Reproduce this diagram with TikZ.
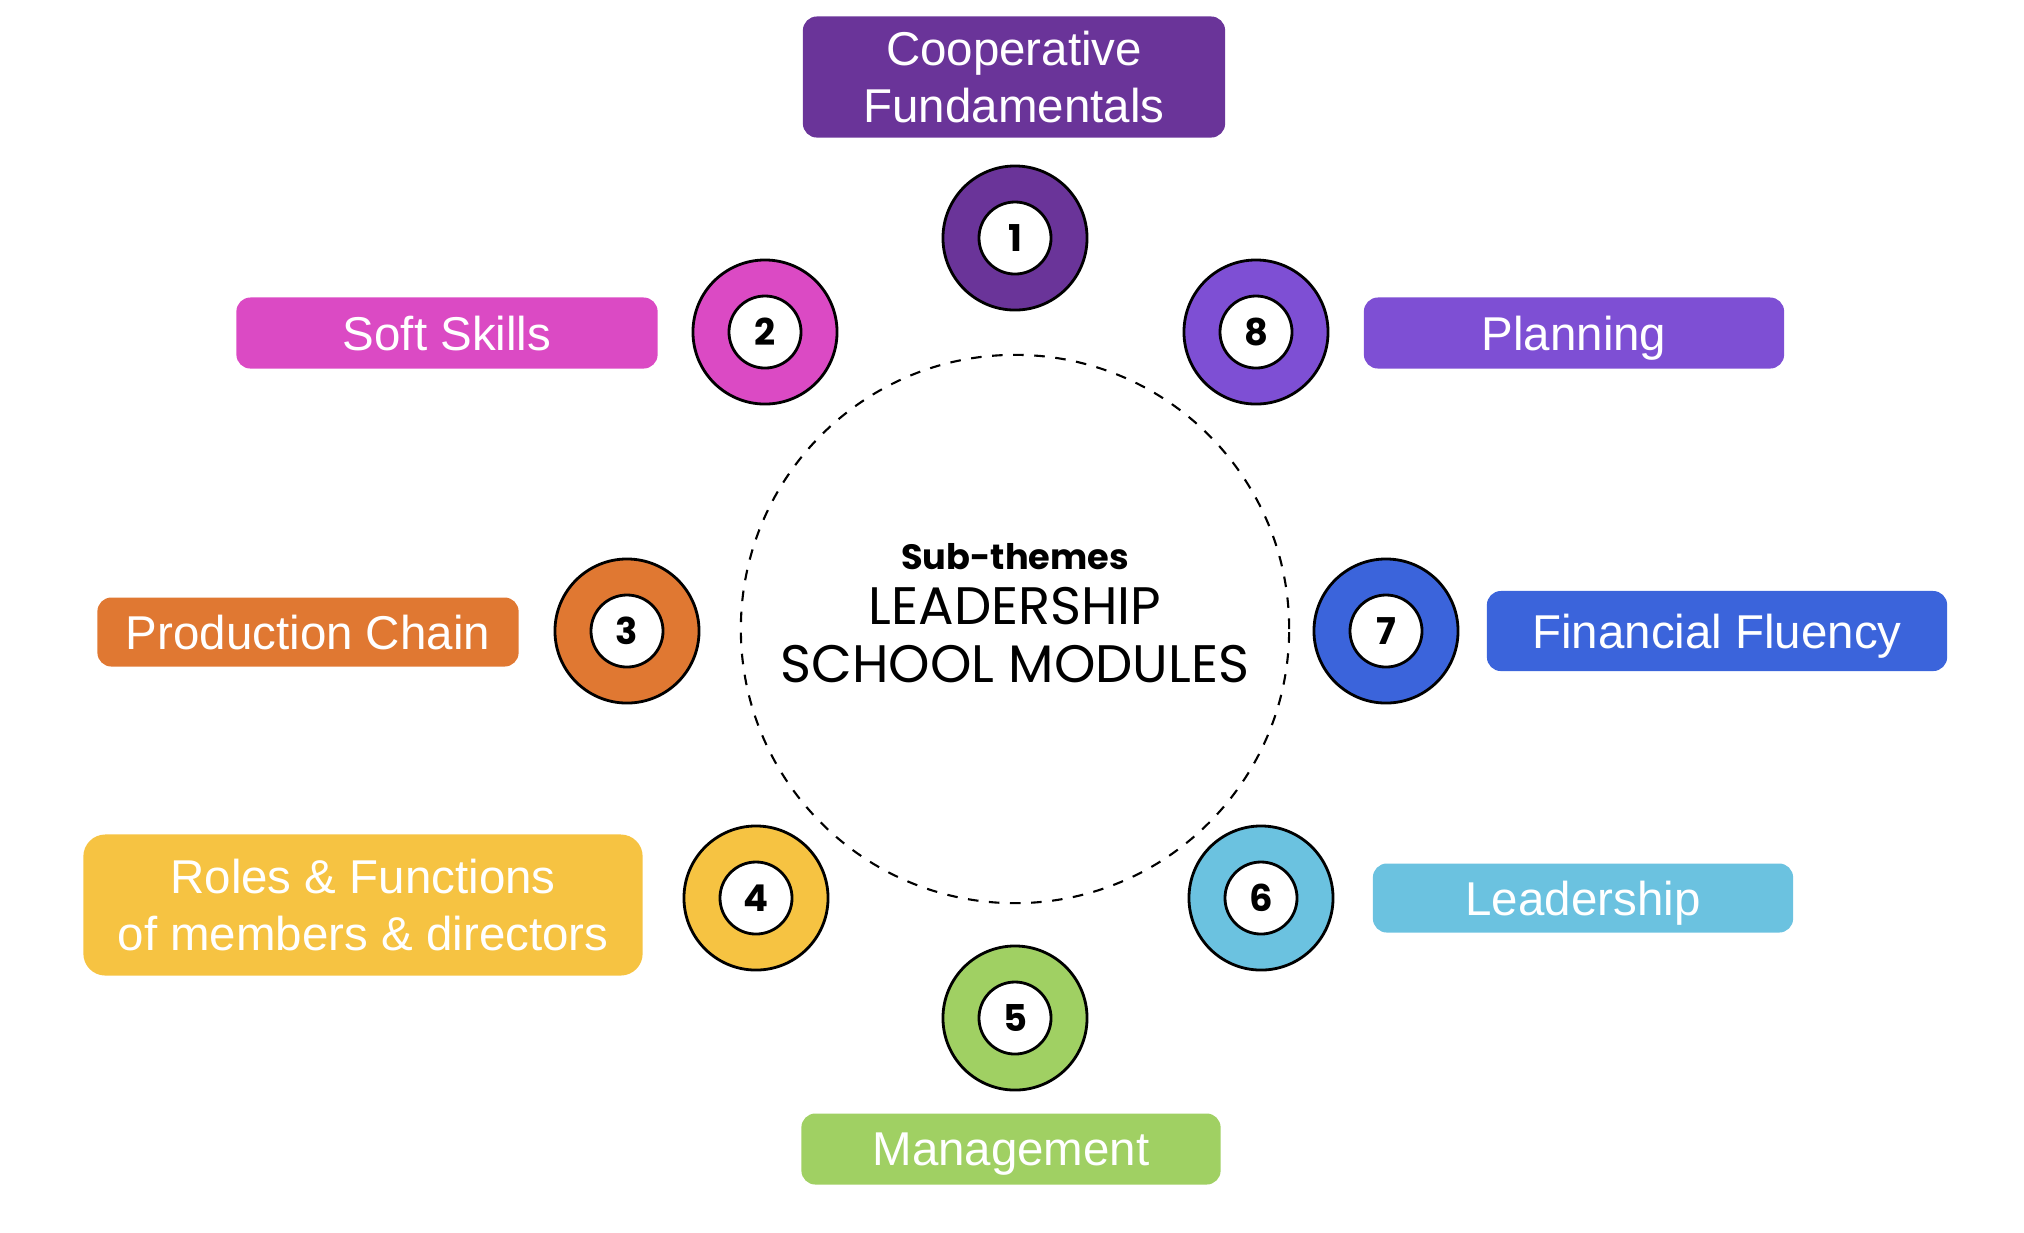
\documentclass[tikz,border=0pt]{standalone}
\usepackage{fontspec}
\setmainfont{Liberation Sans}
\newfontfamily\geofont{Poppins}
\usetikzlibrary{positioning}
\definecolor{mpurple}{HTML}{6A3499}
\definecolor{mmagenta}{HTML}{DB4AC4}
\definecolor{morange}{HTML}{E07832}
\definecolor{myellow}{HTML}{F6C342}
\definecolor{mgreen}{HTML}{A0D063}
\definecolor{mcyan}{HTML}{6BC2E0}
\definecolor{mblue}{HTML}{3B64DB}
\definecolor{mviolet}{HTML}{7E4FD4}
\begin{document}
\begin{tikzpicture}[x=0.01cm,y=-0.01cm,
  ring/.style={circle,draw=black,line width=0.8pt,minimum size=1.44cm,inner sep=0pt},
  hole/.style={circle,draw=black,fill=white,line width=0.8pt,minimum size=0.72cm,inner sep=0pt,font=\geofont\bfseries\fontsize{10.5}{12}\selectfont},
  tag/.style={rounded corners=0.14cm,text=white,align=center,inner sep=0pt,text depth=0pt,minimum height=0.71cm,minimum width=4.21cm,font=\fontsize{13.5}{16.3}\selectfont}]
  \useasboundingbox (0,0) rectangle (2024,1232);
  \node[circle,draw,dashed,line width=0.6pt,minimum size=5.48cm,align=center] (hub) at (1015,629) {};
  \node[align=center,font=\geofont\fontsize{15}{16.3}\selectfont] (title) at (1015,635) {LEADERSHIP\\SCHOOL MODULES};
  \node[above=-2pt of title,font=\geofont\bfseries\fontsize{10}{12}\selectfont] (sub) {Sub-themes};
  \foreach \i/\c/\x/\y in {1/mpurple/1015/238,2/mmagenta/765/332,3/morange/627/631,4/myellow/756/898,
    5/mgreen/1015/1018,6/mcyan/1261/898,7/mblue/1386/631,8/mviolet/1256/332} {
    \node[ring,fill=\c] (c\i) at (\x,\y) {};
    \node[hole] (h\i) at (c\i) {\i};
  }
  \node[tag,fill=mpurple,minimum width=4.22cm,minimum height=1.21cm] (l1) at (1014,77) {Cooperative\\Fundamentals};
  \node[tag,fill=mmagenta] (l2) at (447,333) {Soft Skills};
  \node[tag,fill=morange,minimum height=0.69cm] (l3) at (308,632) {Production Chain};
  \node[tag,fill=myellow,rounded corners=0.22cm,minimum width=5.59cm,minimum height=1.41cm] (l4) at (363,905) {Roles \& Functions\\of members \& directors};
  \node[tag,fill=mgreen,minimum width=4.19cm] (l5) at (1011,1149) {Management};
  \node[tag,fill=mcyan,minimum width=4.2cm,minimum height=0.69cm] (l6) at (1583,898) {Leadership};
  \node[tag,fill=mblue,minimum width=4.6cm,minimum height=0.8cm] (l7) at (1717,631) {Financial Fluency};
  \node[tag,fill=mviolet,minimum width=4.2cm] (l8) at (1574,333) {Planning};
\end{tikzpicture}
\end{document}
